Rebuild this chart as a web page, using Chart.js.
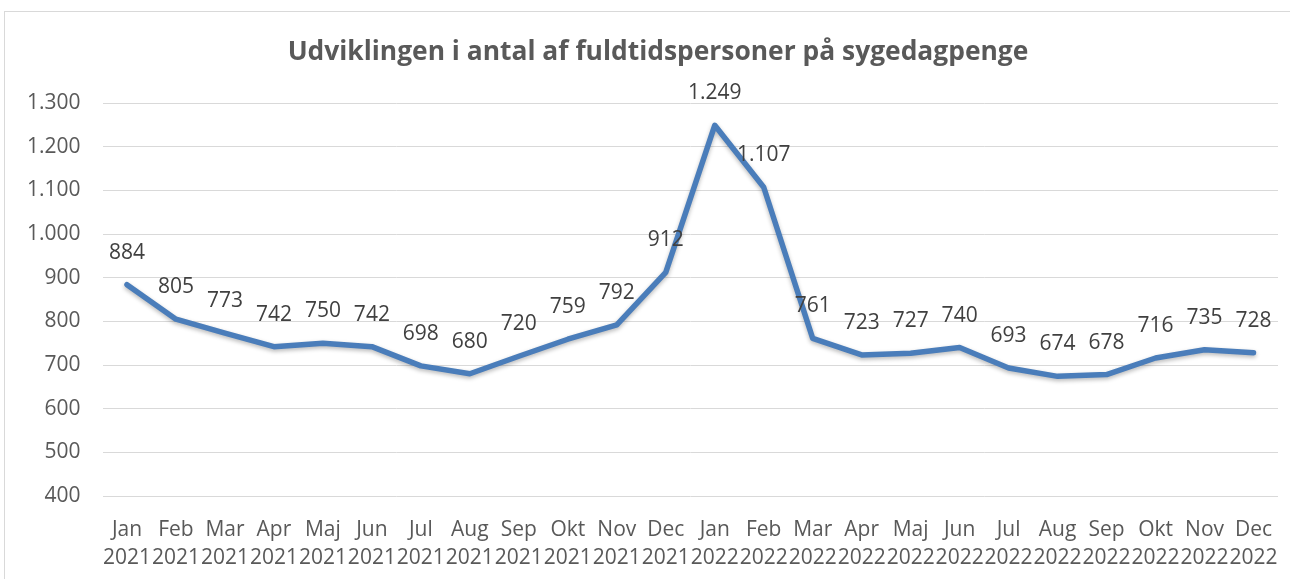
<!DOCTYPE html>
<html>
<head>
<meta charset="utf-8">
<script src="https://cdn.jsdelivr.net/npm/chart.js@4.4.1/dist/chart.umd.min.js"></script>
<style>
  html, body { margin: 0; padding: 0; background: #fff; overflow: hidden; }
  #wrap { position: absolute; left: 0; top: 0; width: 1290px; height: 579px; }
  #frame { position: absolute; left: 4px; top: 11px; width: 1300px; height: 600px; border: 1px solid #d9d9d9; }
</style>
</head>
<body>
<div id="frame"></div>
<div id="wrap"><canvas id="chart" width="1290" height="579"></canvas></div>
<script>
// Data
const months = ["Jan", "Feb", "Mar", "Apr", "Maj", "Jun", "Jul", "Aug", "Sep", "Okt", "Nov", "Dec"];
const years = ["2021", "2022"];
const values = [884, 805, 773, 742, 750, 742, 698, 680, 720, 759, 792, 912,
                1249, 1107, 761, 723, 727, 740, 693, 674, 678, 716, 735, 728];
const yTicks = [400, 500, 600, 700, 800, 900, 1000, 1100, 1200, 1300];

const titleText = "Udviklingen i antal af fuldtidspersoner på sygedagpenge";

// labels like ["Jan", "2021"]
const labels = [];
years.forEach(y => months.forEach(m => labels.push([m, y])));

// 1300 -> "1.300"
function fmt(v) {
  return String(v).replace(/\B(?=(\d{3})+(?!\d))/g, ".");
}

const FONT = "'Open Sans', sans-serif";

// title centred over the frame (not the whole canvas), as in Excel
const frameTitle = {
  id: "frameTitle",
  afterDraw(chart) {
    const ctx = chart.ctx;
    ctx.save();
    ctx.font = "bold 26.4px " + FONT;
    ctx.fillStyle = "#595959";
    ctx.textAlign = "center";
    ctx.textBaseline = "middle";
    ctx.fillText(titleText, 658, 52);
    ctx.restore();
  }
};

// draw value labels above each point
const valueLabels = {
  id: "valueLabels",
  afterDatasetsDraw(chart) {
    const ctx = chart.ctx;
    const meta = chart.getDatasetMeta(0);
    ctx.save();
    ctx.font = "21px " + FONT;
    ctx.fillStyle = "#404040";
    ctx.textAlign = "center";
    ctx.textBaseline = "middle";
    meta.data.forEach((pt, i) => {
      ctx.fillText(fmt(values[i]), pt.x, pt.y - 32);
    });
    ctx.restore();
  }
};

// soft shadow under the line, like the Excel original
const lineShadow = {
  id: "lineShadow",
  beforeDatasetDraw(chart) {
    const ctx = chart.ctx;
    ctx.save();
    ctx.shadowColor = "rgba(0,0,0,0.28)";
    ctx.shadowBlur = 4;
    ctx.shadowOffsetY = 2;
  },
  afterDatasetDraw(chart) {
    chart.ctx.restore();
  }
};

new Chart(document.getElementById("chart"), {
  type: "line",
  data: {
    labels: labels,
    datasets: [{
      data: values,
      borderColor: "#4a7dba",
      borderWidth: 5.5,
      borderCapStyle: "round",
      borderJoinStyle: "round",
      pointRadius: 0,
      tension: 0,
      fill: false
    }]
  },
  options: {
    responsive: false,
    animation: false,
    layout: { padding: { left: 0, right: 12, top: 103, bottom: 0 } },
    plugins: {
      legend: { display: false },
      tooltip: { enabled: false },
      title: { display: false }
    },
    scales: {
      x: {
        offset: true,
        afterFit(scale) { scale.height = 83; },
        grid: { display: false },
        border: { display: false },
        ticks: {
          color: "#595959",
          font: { family: FONT, size: 21, lineHeight: 1.33 },
          padding: 12,
          autoSkip: false,
          maxRotation: 0,
          minRotation: 0
        }
      },
      y: {
        min: 400,
        max: 1300,
        afterFit(scale) { scale.width = 102.5; },
        afterBuildTicks(scale) { scale.ticks = yTicks.map(v => ({ value: v })); },
        grid: { color: "#d9d9d9", lineWidth: 1, drawTicks: false },
        border: { display: false },
        ticks: {
          color: "#595959",
          font: { family: FONT, size: 21 },
          padding: 22,
          callback: v => fmt(v)
        }
      }
    }
  },
  plugins: [lineShadow, valueLabels, frameTitle]
});
</script>
</body>
</html>
